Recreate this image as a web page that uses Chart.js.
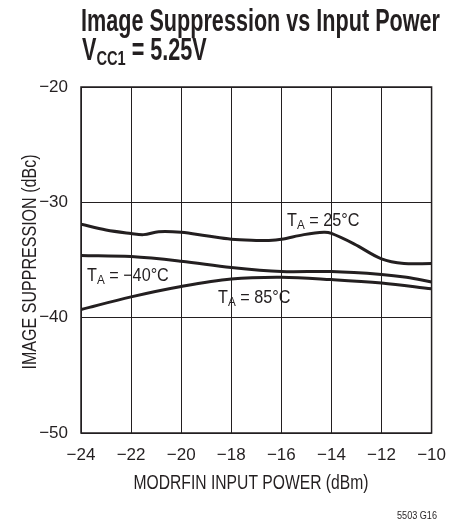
<!DOCTYPE html>
<html>
<head>
<meta charset="utf-8">
<script src="https://cdn.jsdelivr.net/npm/chart.js@4/dist/chart.umd.min.js"></script>
<style>
  body { margin: 0; background: #fff; }
</style>
</head>
<body>
<canvas id="c" width="458" height="523"></canvas>
<script>
const xTicks = [-24, -22, -20, -18, -16, -14, -12, -10];
const yTicks = [-20, -30, -40, -50];

// input power (dBm) sample points for each curve
const x25 = [-24, -23, -22, -21.5, -20.9, -20, -19, -18, -17, -16.5, -16, -15.1, -14.3, -14, -13.1, -12, -11.1, -10];
const y25 = [-31.9, -32.4, -32.7, -32.8, -32.55, -32.6, -32.9, -33.2, -33.3, -33.3, -33.2, -32.8, -32.6, -32.7, -33.6, -34.9, -35.3, -35.3];

const xM40 = [-24, -22, -20, -18, -16, -14, -12, -11, -10];
const yM40 = [-34.6, -34.7, -35.1, -35.65, -36.0, -36.0, -36.25, -36.5, -36.9];

const x85 = [-24, -22, -20, -18, -16, -14, -12, -10];
const y85 = [-39.3, -38.2, -37.3, -36.65, -36.5, -36.7, -37.0, -37.5];

const ink = '#231f20';
const sans = '"Liberation Sans", Arial, sans-serif';

function pts(xs, ys) {
  return xs.map((x, i) => ({ x: x, y: ys[i] }));
}

function curve(label, xs, ys) {
  return {
    label: label,
    data: pts(xs, ys),
    borderColor: ink,
    borderWidth: 3,
    pointRadius: 0,
    fill: false,
    tension: 0.35
  };
}

// squeezed text, like the condensed face of the original
function squeeze(ctx, str, x, y, font, sx, align) {
  ctx.save();
  ctx.font = font;
  ctx.translate(x, y);
  ctx.scale(sx, 1);
  ctx.textAlign = align || 'left';
  ctx.fillText(str, 0, 0);
  const w = ctx.measureText(str).width * sx;
  ctx.restore();
  return w;
}

function fitScale(ctx, str, font, width) {
  ctx.save();
  ctx.font = font;
  const w = ctx.measureText(str).width;
  ctx.restore();
  return width / w;
}

const textPlugin = {
  id: 'texts',
  afterDraw(chart) {
    const ctx = chart.ctx;
    ctx.save();
    ctx.fillStyle = ink;
    ctx.textBaseline = 'alphabetic';

    const tf = 'bold 31px ' + sans;
    const tsx = fitScale(ctx, 'Image Suppression vs Input Power', tf, 359);
    squeeze(ctx, 'Image Suppression vs Input Power', 81, 31, tf, tsx);
    let x = 82;
    x += squeeze(ctx, 'V', x, 60, tf, tsx);
    x += squeeze(ctx, 'CC1', x, 65, 'bold 21px ' + sans, tsx);
    squeeze(ctx, ' = 5.25V', x, 60, tf, tsx);

    function ta(x, y, rest) {
      x += squeeze(ctx, 'T', x, y, '18px ' + sans, 0.9);
      x += squeeze(ctx, 'A', x, y + 3, '13px ' + sans, 0.9);
      squeeze(ctx, rest, x, y, '18px ' + sans, 0.9);
    }
    ta(287, 226, ' = 25°C');
    ta(87, 281, ' = \u221240°C');
    ta(218, 303, ' = 85°C');

    const af = '20px ' + sans;
    const xs = fitScale(ctx, 'MODRFIN INPUT POWER (dBm)', af, 235);
    squeeze(ctx, 'MODRFIN INPUT POWER (dBm)', 251, 489, af, xs, 'center');

    ctx.save();
    ctx.translate(36, 262);
    ctx.rotate(-Math.PI / 2);
    const ys = fitScale(ctx, 'IMAGE SUPPRESSION (dBc)', af, 215);
    squeeze(ctx, 'IMAGE SUPPRESSION (dBc)', 0, 0, af, ys, 'center');
    ctx.restore();

    const ff = '11px ' + sans;
    squeeze(ctx, '5503 G16', 437, 519, ff, fitScale(ctx, '5503 G16', ff, 40), 'right');

    const a = chart.chartArea;
    ctx.strokeStyle = ink;
    ctx.lineWidth = 1.5;
    ctx.strokeRect(a.left, a.top, a.right - a.left, a.bottom - a.top);
    ctx.restore();
  }
};

new Chart(document.getElementById('c'), {
  type: 'line',
  data: {
    datasets: [
      curve('TA = 25°C', x25, y25),
      curve('TA = -40°C', xM40, yM40),
      curve('TA = 85°C', x85, y85)
    ]
  },
  options: {
    responsive: false,
    animation: false,
    layout: { padding: { top: 87, right: 26, left: 0, bottom: 0 } },
    plugins: { legend: { display: false }, tooltip: { enabled: false } },
    scales: {
      x: {
        type: 'linear',
        min: -24,
        max: -10,
        afterBuildTicks: s => { s.ticks = xTicks.map(v => ({ value: v })); },
        afterFit: s => { s.height = 90; },
        grid: { color: ink, lineWidth: 1, drawTicks: false },
        border: { display: false },
        ticks: {
          padding: 12,
          color: ink,
          font: { family: sans, size: 17 },
          callback: v => String(v).replace('-', '\u2212')
        }
      },
      y: {
        min: -50,
        max: -20,
        afterBuildTicks: s => { s.ticks = yTicks.map(v => ({ value: v })); },
        afterFit: s => { s.width = 81; },
        grid: { color: ink, lineWidth: 1, drawTicks: false },
        border: { display: false },
        ticks: {
          padding: 13,
          color: ink,
          font: { family: sans, size: 17 },
          callback: v => String(v).replace('-', '\u2212')
        }
      }
    }
  },
  plugins: [textPlugin]
});
</script>
</body>
</html>
